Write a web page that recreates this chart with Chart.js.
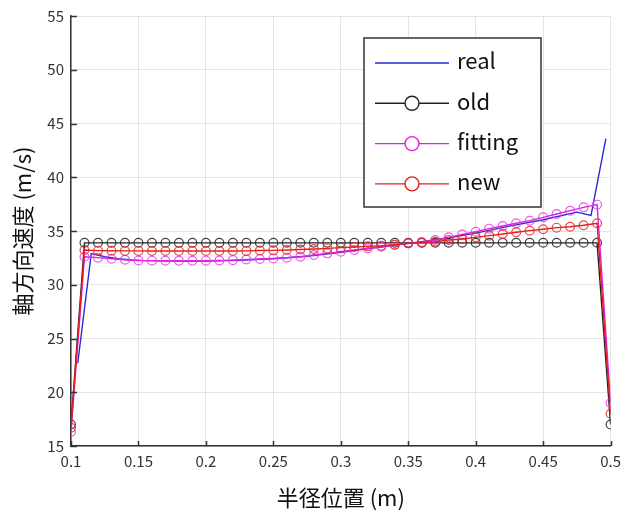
<!DOCTYPE html>
<html>
<head>
<meta charset="utf-8">
<script src="https://cdn.jsdelivr.net/npm/chart.js@4.4.1/dist/chart.umd.min.js"></script>
<style>
html,body{margin:0;padding:0;background:#fff;}
#wrap{position:relative;width:627px;height:517px;}
</style>
</head>
<body>
<div id="wrap"><canvas id="c" width="627" height="517"></canvas></div>
<script>
// ---- data ----
const xs = [0.10,0.11,0.12,0.13,0.14,0.15,0.16,0.17,0.18,0.19,0.20,0.21,0.22,0.23,0.24,0.25,0.26,0.27,0.28,0.29,0.30,0.31,0.32,0.33,0.34,0.35,0.36,0.37,0.38,0.39,0.40,0.41,0.42,0.43,0.44,0.45,0.46,0.47,0.48,0.49,0.50];
const oldVals = [17.0,33.9,33.9,33.9,33.9,33.9,33.9,33.9,33.9,33.9,33.9,33.9,33.9,33.9,33.9,33.9,33.9,33.9,33.9,33.9,33.9,33.9,33.9,33.9,33.9,33.9,33.9,33.9,33.9,33.9,33.9,33.9,33.9,33.9,33.9,33.9,33.9,33.9,33.9,33.9,17.0];
const fittingVals = [16.3,32.6,32.52,32.42,32.32,32.26,32.24,32.23,32.23,32.23,32.24,32.26,32.29,32.35,32.4,32.45,32.52,32.61,32.77,32.92,33.08,33.23,33.38,33.54,33.7,33.85,33.97,34.16,34.41,34.68,34.93,35.22,35.47,35.72,35.96,36.27,36.58,36.89,37.2,37.45,19.0];
const newVals = [16.7,33.23,33.17,33.16,33.15,33.15,33.14,33.14,33.14,33.14,33.14,33.14,33.14,33.15,33.18,33.2,33.23,33.28,33.33,33.38,33.45,33.51,33.57,33.63,33.73,33.85,33.91,34.0,34.16,34.26,34.41,34.57,34.72,34.88,35.03,35.16,35.31,35.4,35.53,35.72,18.0];
const realX = [0.105,0.115,0.125,0.135,0.145,0.155,0.175,0.2,0.225,0.25,0.275,0.3,0.325,0.35,0.375,0.4,0.425,0.45,0.475,0.4855,0.4965];
const realVals = [22.7,32.9,32.6,32.42,32.3,32.24,32.2,32.2,32.28,32.42,32.65,33.02,33.44,33.85,34.25,34.8,35.45,36.05,36.75,36.45,43.6];
const seriesNames = ['real','old','fitting','new'];
const xTitle = '半径位置 (m)';
const yTitle = '軸方向速度 (m/s)';

const pts = (xArr, yArr) => xArr.map((x, i) => ({x: x, y: yArr[i]}));
const FONT = '"Noto Sans CJK JP", "Noto Sans", sans-serif';

const colors = {
  real: '#2a2ad8',
  old: '#222222',
  fitting: '#e020e0',
  newc: '#e81c1c'
};

const datasets = [
  {label: seriesNames[0], data: pts(realX, realVals), borderColor: colors.real, backgroundColor: colors.real,
   borderWidth: 1.4, pointRadius: 0, order: 4, showMarker: false},
  {label: seriesNames[1], data: pts(xs, oldVals), borderColor: colors.old, backgroundColor: 'rgba(0,0,0,0)',
   pointBorderColor: 'rgba(34,34,34,0.85)', borderWidth: 1.4, pointRadius: 4.4, pointBorderWidth: 1.2, order: 3, showMarker: true},
  {label: seriesNames[2], data: pts(xs, fittingVals), borderColor: colors.fitting, backgroundColor: 'rgba(0,0,0,0)',
   pointBorderColor: 'rgba(230,60,230,0.85)', borderWidth: 1.4, pointRadius: 4.4, pointBorderWidth: 1.2, order: 2, showMarker: true},
  {label: seriesNames[3], data: pts(xs, newVals), borderColor: colors.newc, backgroundColor: 'rgba(0,0,0,0)',
   pointBorderColor: 'rgba(232,40,40,0.85)', borderWidth: 1.4, pointRadius: 4.4, pointBorderWidth: 1.2, order: 1, showMarker: true}
];

// inward tick marks drawn from the scales' own ticks
const innerTicks = {
  id: 'innerTicks',
  afterDraw(chart) {
    const ctx = chart.ctx;
    const xs_ = chart.scales.x, ys_ = chart.scales.y;
    const ca = chart.chartArea;
    ctx.save();
    ctx.strokeStyle = '#333';
    ctx.lineWidth = 1.5;
    ctx.beginPath();
    xs_.ticks.forEach(t => {
      const px = Math.round(xs_.getPixelForValue(t.value)) + 0.5;
      ctx.moveTo(px, ca.bottom);
      ctx.lineTo(px, ca.bottom - 5);
    });
    ys_.ticks.forEach(t => {
      const py = Math.round(ys_.getPixelForValue(t.value)) + 0.5;
      ctx.moveTo(ca.left, py);
      ctx.lineTo(ca.left + 6, py);
    });
    ctx.stroke();
    ctx.restore();
  }
};

// in-plot legend box
const boxLegend = {
  id: 'boxLegend',
  afterDraw(chart) {
    const ctx = chart.ctx;
    const ca = chart.chartArea;
    const bx = ca.left + 293, by = ca.top + 22, bw = 177, bh = 169;
    ctx.save();
    ctx.fillStyle = '#fff';
    ctx.fillRect(bx, by, bw, bh);
    ctx.strokeStyle = '#333';
    ctx.lineWidth = 1.5;
    ctx.strokeRect(bx, by, bw, bh);
    ctx.font = '22px ' + FONT;
    ctx.textBaseline = 'middle';
    ctx.textAlign = 'left';
    chart.data.datasets.forEach((ds, i) => {
      const ry = by + 25 + i * 40.3;
      ctx.strokeStyle = ds.borderColor;
      ctx.lineWidth = 1.4;
      ctx.beginPath();
      ctx.moveTo(bx + 11, ry);
      ctx.lineTo(bx + 85, ry);
      ctx.stroke();
      if (ds.showMarker) {
        ctx.beginPath();
        ctx.arc(bx + 48, ry, 7, 0, Math.PI * 2);
        ctx.fillStyle = '#fff';
        ctx.fill();
        ctx.lineWidth = 1.4;
        ctx.stroke();
      }
      ctx.fillStyle = '#111';
      ctx.fillText(ds.label, bx + 93, ry - 2);
    });
    ctx.restore();
  }
};

new Chart(document.getElementById('c'), {
  type: 'line',
  data: {datasets: datasets},
  options: {
    responsive: false,
    animation: false,
    devicePixelRatio: 1,
    layout: {padding: {left: 0, right: 14, top: 16, bottom: 0}},
    elements: {line: {tension: 0}},
    plugins: {legend: {display: false}, tooltip: {enabled: false}},
    scales: {
      x: {
        type: 'linear', min: 0.1, max: 0.5,
        ticks: {stepSize: 0.05, padding: 6, color: '#333', font: {family: FONT, size: 15},
          callback: v => String(Number(v.toFixed(2)))},
        grid: {color: '#e4e4e4', lineWidth: 1, drawTicks: false},
        border: {display: true, color: '#333', width: 1.5},
        title: {display: true, text: xTitle, color: '#111', font: {family: FONT, size: 22}, padding: {top: 0, bottom: 6}},
        afterFit: s => { s.height = 71; }
      },
      y: {
        type: 'linear', min: 15, max: 55,
        ticks: {stepSize: 5, padding: 7, color: '#333', font: {family: FONT, size: 15}},
        grid: {color: '#e4e4e4', lineWidth: 1, drawTicks: false},
        border: {display: true, color: '#333', width: 1.5},
        title: {display: true, text: yTitle, color: '#111', font: {family: FONT, size: 22}, padding: {top: 9, bottom: 0}},
        afterFit: s => { s.width = 71; }
      }
    }
  },
  plugins: [innerTicks, boxLegend]
});
</script>
</body>
</html>
